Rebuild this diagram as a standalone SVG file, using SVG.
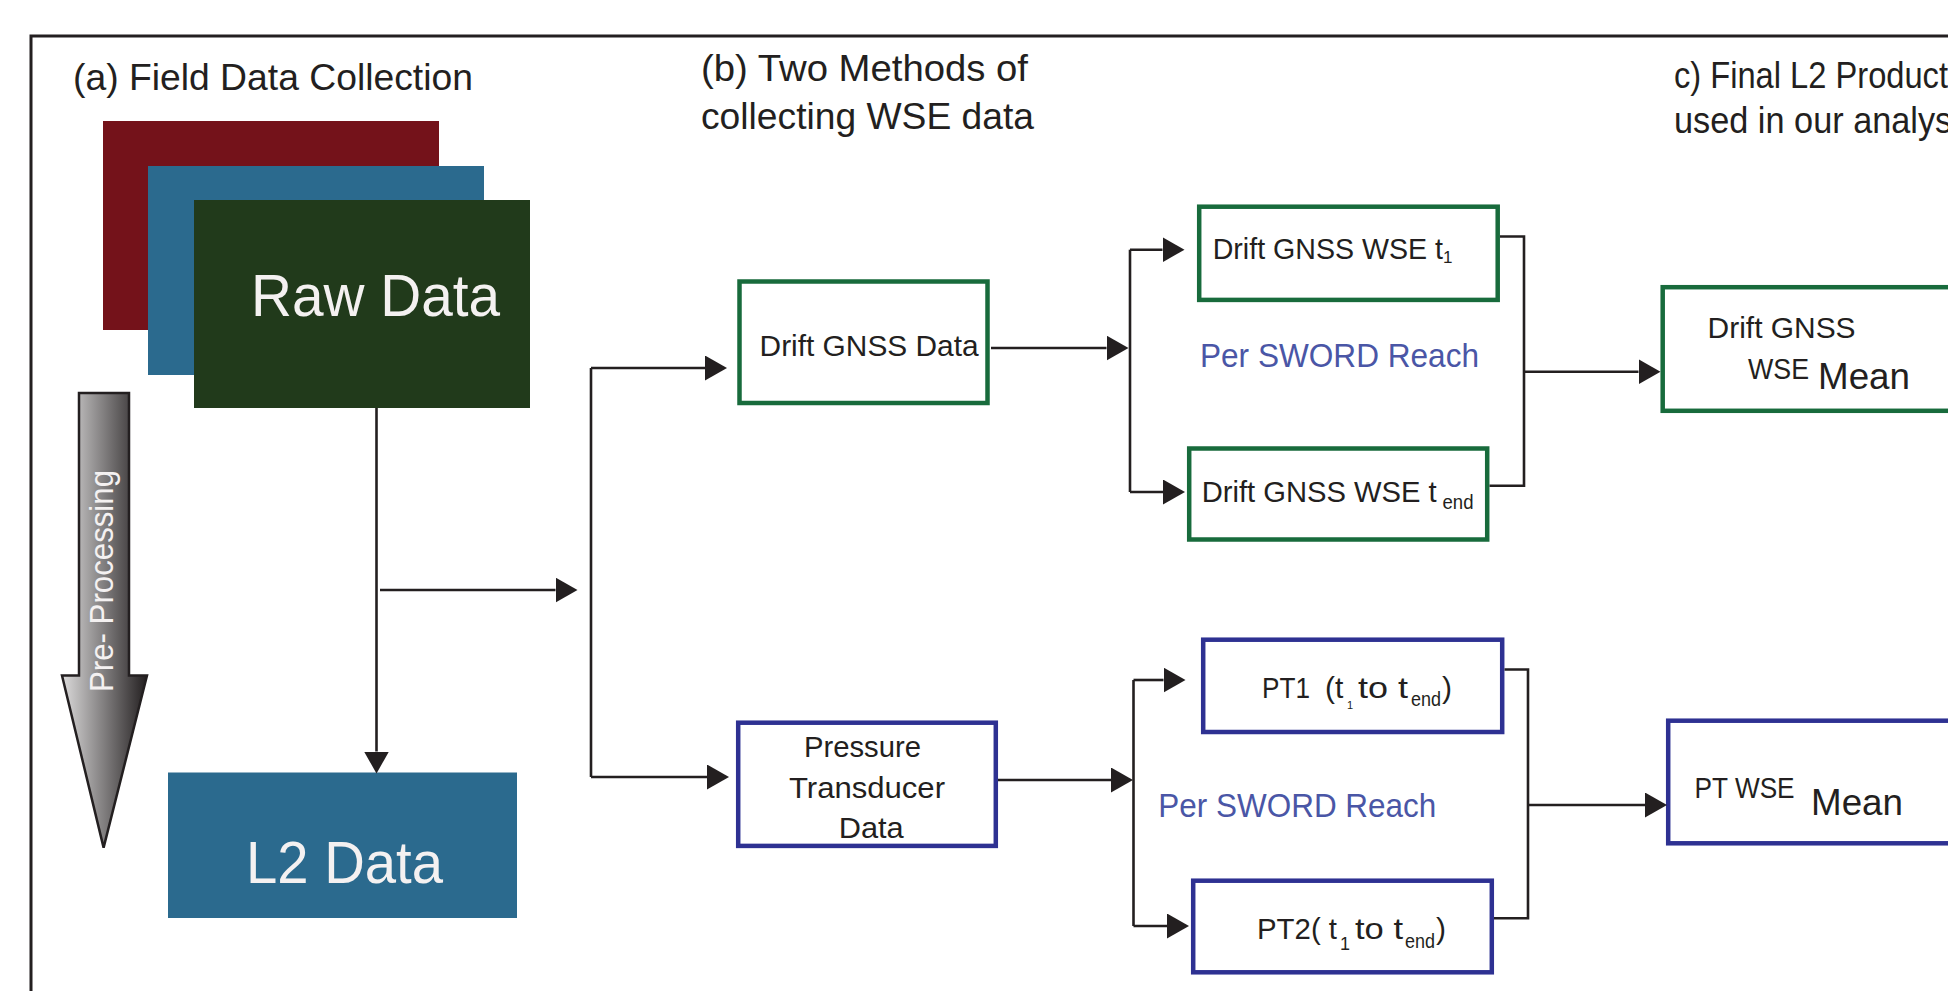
<svg xmlns="http://www.w3.org/2000/svg" width="1948" height="991" viewBox="0 0 1948 991">
<style>
.t{font-family:"Liberation Sans",Arial,sans-serif;fill:#231f20}
.w{font-family:"Liberation Sans",Arial,sans-serif;fill:#f4f1f1}
.r{font-family:"Liberation Sans",Arial,sans-serif;fill:#4a56a6}
.g{fill:#fff;stroke:#186b3c;stroke-width:4.5}
.b{fill:#fff;stroke:#2e3192;stroke-width:4.5}
.c{fill:none;stroke:#231f20;stroke-width:2.6}
.ca{fill:none;stroke:#231f20;stroke-width:2.6;marker-end:url(#ah)}
</style>
<defs>
<marker id="ah" markerUnits="userSpaceOnUse" viewBox="0 -12.5 22 25" markerWidth="22" markerHeight="25" refX="0" refY="0" orient="auto">
<path d="M0,-12.5 L22,0 L0,12.5 Z" fill="#231f20"/>
</marker>
<linearGradient id="pg" x1="0" y1="0" x2="1" y2="0">
<stop offset="0" stop-color="#dcdbdb"/>
<stop offset="1" stop-color="#231f20"/>
</linearGradient>
</defs>
<rect x="0" y="0" width="1948" height="991" fill="#fff"/>
<path d="M31,991 V36 H1948" fill="none" stroke="#231f20" stroke-width="3"/>

<text class="t" x="73" y="89.5" font-size="37" textLength="400" lengthAdjust="spacingAndGlyphs">(a) Field Data Collection</text>
<text class="t" x="701" y="80.5" font-size="37" textLength="327" lengthAdjust="spacingAndGlyphs">(b) Two Methods of</text>
<text class="t" x="701" y="129" font-size="37" textLength="333" lengthAdjust="spacingAndGlyphs">collecting WSE data</text>
<text class="t" x="1674" y="88.3" font-size="37" textLength="274" lengthAdjust="spacingAndGlyphs">c) Final L2 Product</text>
<text class="t" x="1674" y="132.7" font-size="37" textLength="303" lengthAdjust="spacingAndGlyphs">used in our analysis</text>

<g id="raw-data">
<rect x="103" y="121" width="336" height="209" fill="#74121a"/>
<rect x="148" y="166" width="336" height="209" fill="#2b6a8e"/>
<rect x="194" y="200" width="336" height="208" fill="#213a1b"/>
<text class="w" x="251" y="316" font-size="60" textLength="249" lengthAdjust="spacingAndGlyphs">Raw Data</text>
</g>

<g id="pre-processing">
<path d="M79,393 H129 V675.5 H147 L103.6,847.6 L62,675.5 H79 Z" fill="url(#pg)" stroke="#231f20" stroke-width="2.5"/>
<text class="w" transform="translate(113,692) rotate(-90)" x="0" y="0" font-size="34" textLength="222" lengthAdjust="spacingAndGlyphs">Pre- Processing</text>
</g>

<g id="l2-data">
<rect x="168" y="772.5" width="349" height="145.5" fill="#2b6a8e"/>
<text class="w" x="246" y="883" font-size="60" textLength="197" lengthAdjust="spacingAndGlyphs">L2 Data</text>
</g>

<g id="drift-gnss-data">
<rect class="g" x="739.5" y="281.5" width="248" height="121.5"/>
<text class="t" x="759.6" y="356" font-size="30" textLength="219" lengthAdjust="spacingAndGlyphs">Drift GNSS Data</text>
</g>

<g id="pressure-transducer-data">
<rect class="b" x="738.2" y="722.7" width="257.6" height="123.2"/>
<text class="t" x="804" y="756.7" font-size="30" textLength="117" lengthAdjust="spacingAndGlyphs">Pressure</text>
<text class="t" x="789" y="798.3" font-size="30" textLength="156" lengthAdjust="spacingAndGlyphs">Transducer</text>
<text class="t" x="838.7" y="838.3" font-size="30" textLength="65" lengthAdjust="spacingAndGlyphs">Data</text>
</g>

<g id="drift-gnss-wse-t1">
<rect class="g" x="1199.2" y="206.7" width="298.5" height="93.2"/>
<text class="t" x="1212.7" y="259" font-size="28.6">Drift GNSS WSE t<tspan dy="3.5" font-size="17">1</tspan></text>
</g>

<g id="drift-gnss-wse-tend">
<rect class="g" x="1189.2" y="448.5" width="298" height="91"/>
<text class="t" font-size="30"><tspan x="1201.7" y="502" textLength="235" lengthAdjust="spacingAndGlyphs">Drift GNSS WSE t</tspan><tspan x="1442.5" y="509" font-size="20" textLength="31" lengthAdjust="spacingAndGlyphs">end</tspan></text>
</g>

<text class="r" x="1200" y="366.7" font-size="33" textLength="279" lengthAdjust="spacingAndGlyphs">Per SWORD Reach</text>

<g id="pt1">
<rect class="b" x="1203.2" y="639.7" width="299" height="92.3"/>
<text class="t" font-size="30"><tspan x="1262" y="698" textLength="48" lengthAdjust="spacingAndGlyphs">PT1</tspan><tspan x="1325" y="698">(t</tspan><tspan x="1347" y="709" font-size="11">1</tspan><tspan x="1358" y="698" textLength="50" lengthAdjust="spacingAndGlyphs">to t</tspan><tspan x="1411" y="706" font-size="20" textLength="30" lengthAdjust="spacingAndGlyphs">end</tspan><tspan x="1442" y="698">)</tspan></text>
</g>

<g id="pt2">
<rect class="b" x="1193.2" y="880.7" width="298.6" height="91.6"/>
<text class="t" font-size="30"><tspan x="1257" y="938.5" textLength="80" lengthAdjust="spacingAndGlyphs">PT2( t</tspan><tspan x="1340" y="950" font-size="18">1</tspan><tspan x="1355" y="938.5" textLength="48" lengthAdjust="spacingAndGlyphs">to t</tspan><tspan x="1405" y="947.5" font-size="20" textLength="30" lengthAdjust="spacingAndGlyphs">end</tspan><tspan x="1436" y="938.5">)</tspan></text>
</g>

<text class="r" x="1158.3" y="816.7" font-size="33" textLength="278" lengthAdjust="spacingAndGlyphs">Per SWORD Reach</text>

<g id="drift-gnss-wse-mean">
<rect class="g" x="1662.7" y="287.2" width="340" height="123.6"/>
<text class="t" x="1707.6" y="338.3" font-size="30" textLength="148" lengthAdjust="spacingAndGlyphs">Drift GNSS</text>
<text class="t" x="1748" y="379" font-size="29" textLength="61" lengthAdjust="spacingAndGlyphs">WSE</text>
<text class="t" x="1818" y="389" font-size="36" textLength="92" lengthAdjust="spacingAndGlyphs">Mean</text>
</g>

<g id="pt-wse-mean">
<rect class="b" x="1668.2" y="720.7" width="340" height="122.6"/>
<text class="t" x="1694.6" y="798.3" font-size="30" textLength="100" lengthAdjust="spacingAndGlyphs">PT WSE</text>
<text class="t" x="1811" y="815" font-size="36" textLength="92" lengthAdjust="spacingAndGlyphs">Mean</text>
</g>

<g id="connectors">
<path class="ca" d="M376.5,408 V751.5"/>
<path class="ca" d="M380,590 H555.5"/>
<path class="c" d="M591,368 V777"/>
<path class="ca" d="M591,368 H705"/>
<path class="ca" d="M591,777 H707"/>
<path class="ca" d="M991,348 H1106.5"/>
<path class="c" d="M1130,249.7 V492"/>
<path class="ca" d="M1130,249.7 H1162.5"/>
<path class="ca" d="M1130,492 H1163"/>
<path class="ca" d="M998,780 H1111"/>
<path class="c" d="M1133.5,680 V926"/>
<path class="ca" d="M1133.5,680 H1163.5"/>
<path class="ca" d="M1133.5,926 H1167"/>
<path class="c" d="M1500,236.5 H1524 V485.7 H1489.5"/>
<path class="ca" d="M1524,371.7 H1638.5"/>
<path class="c" d="M1504.5,669.5 H1528 V918.3 H1494"/>
<path class="ca" d="M1528,805 H1645"/>
</g>
</svg>
